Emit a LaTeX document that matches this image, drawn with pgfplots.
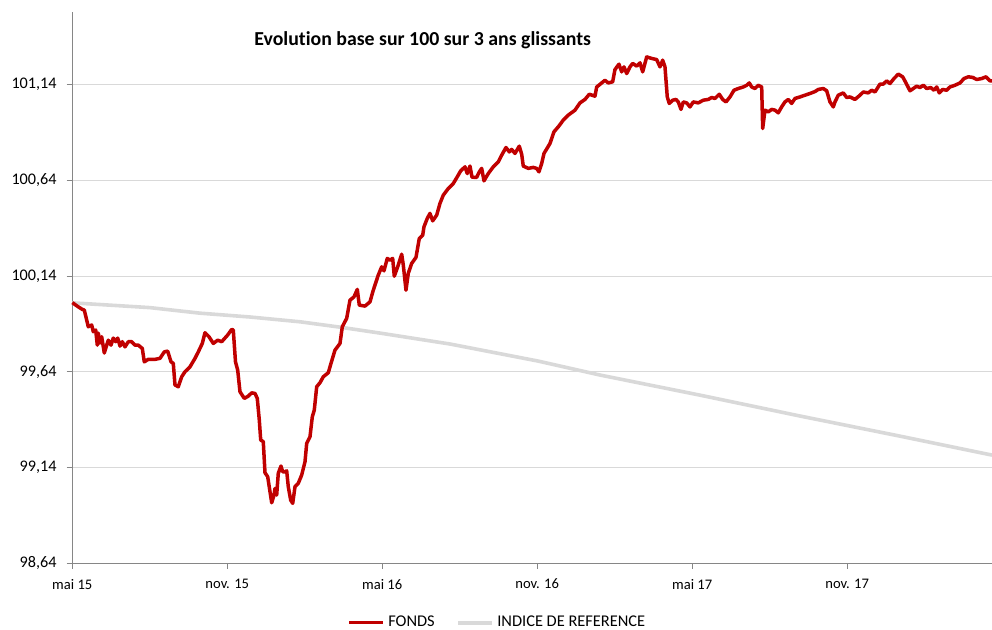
\documentclass[border=0pt]{standalone}
\usepackage{fontspec}
\setmainfont{Carlito}[Ligatures=NoCommon]
\usepackage{pgfplots}
\usepackage{pgfplotstable}
\pgfplotsset{compat=1.18}
\definecolor{fondsred}{HTML}{C00000}
\definecolor{indexgray}{HTML}{D9D9D9}
\definecolor{gridgray}{HTML}{D9D9D9}
\definecolor{axisgray}{HTML}{868686}

\pgfplotstableread{
x y
0.000 100.001
0.232 99.979
0.387 99.966
0.465 99.962
0.619 99.875
0.751 99.884
0.813 99.849
0.906 99.858
0.968 99.779
1.007 99.842
1.072 99.790
1.138 99.823
1.239 99.738
1.332 99.779
1.394 99.805
1.498 99.779
1.587 99.816
1.680 99.797
1.758 99.816
1.847 99.774
1.936 99.797
2.040 99.770
2.168 99.797
2.300 99.797
2.427 99.779
2.555 99.779
2.710 99.762
2.787 99.692
2.942 99.705
3.202 99.705
3.395 99.710
3.562 99.744
3.693 99.748
3.821 99.692
3.910 99.684
3.976 99.571
4.104 99.562
4.235 99.614
4.363 99.640
4.557 99.666
4.750 99.710
4.878 99.744
5.033 99.788
5.137 99.844
5.292 99.823
5.459 99.788
5.629 99.805
5.784 99.797
6.016 99.832
6.171 99.861
6.233 99.858
6.318 99.692
6.403 99.649
6.492 99.536
6.659 99.501
6.814 99.513
6.945 99.530
7.073 99.527
7.162 99.501
7.240 99.388
7.294 99.284
7.394 99.275
7.460 99.113
7.565 99.092
7.654 99.014
7.720 98.956
7.809 98.996
7.848 99.031
7.913 98.996
7.975 99.110
8.080 99.148
8.146 99.118
8.235 99.118
8.300 99.123
8.362 99.040
8.455 98.970
8.533 98.953
8.622 99.040
8.750 99.058
8.881 99.101
9.009 99.170
9.075 99.266
9.203 99.301
9.292 99.405
9.369 99.440
9.462 99.562
9.590 99.583
9.718 99.614
9.911 99.635
10.016 99.684
10.170 99.753
10.364 99.788
10.453 99.875
10.623 99.919
10.751 100.014
10.906 100.031
11.034 100.070
11.111 99.988
11.332 99.983
11.525 100.005
11.653 100.066
11.847 100.145
11.978 100.188
12.067 100.167
12.195 100.232
12.300 100.223
12.404 100.232
12.466 100.139
12.598 100.188
12.753 100.254
12.815 100.197
12.919 100.066
13.008 100.154
13.140 100.206
13.306 100.237
13.434 100.336
13.566 100.353
13.616 100.397
13.744 100.441
13.848 100.467
13.953 100.428
14.108 100.458
14.235 100.519
14.363 100.562
14.557 100.597
14.750 100.623
14.944 100.667
15.037 100.689
15.203 100.710
15.292 100.675
15.397 100.714
15.475 100.656
15.656 100.655
15.757 100.684
15.850 100.702
15.939 100.637
16.105 100.675
16.299 100.710
16.493 100.736
16.624 100.771
16.791 100.811
16.919 100.788
17.011 100.801
17.139 100.780
17.305 100.818
17.398 100.776
17.460 100.714
17.654 100.702
17.847 100.707
17.979 100.702
18.068 100.684
18.173 100.728
18.262 100.780
18.494 100.832
18.649 100.893
18.815 100.919
19.009 100.954
19.203 100.980
19.462 101.006
19.656 101.044
19.849 101.062
20.015 101.089
20.236 101.079
20.302 101.127
20.495 101.148
20.623 101.162
20.751 101.148
20.921 101.154
21.010 101.218
21.165 101.246
21.270 101.206
21.359 101.232
21.463 101.197
21.591 101.232
21.696 101.250
21.851 101.236
21.979 101.253
22.083 101.206
22.238 101.284
22.431 101.276
22.625 101.270
22.753 101.232
22.857 101.267
22.946 101.232
23.035 101.075
23.113 101.041
23.244 101.058
23.372 101.062
23.461 101.049
23.566 101.010
23.655 101.049
23.786 101.044
23.914 101.023
24.042 101.049
24.236 101.044
24.429 101.058
24.623 101.062
24.755 101.072
24.882 101.067
25.049 101.089
25.180 101.062
25.308 101.049
25.463 101.075
25.618 101.110
25.784 101.119
25.978 101.127
26.110 101.136
26.210 101.148
26.303 101.127
26.431 101.119
26.559 101.136
26.690 101.127
26.729 100.910
26.818 101.006
26.946 100.997
27.077 101.010
27.205 101.006
27.333 100.992
27.464 101.023
27.592 101.049
27.720 101.062
27.851 101.041
27.979 101.067
28.173 101.075
28.366 101.084
28.560 101.093
28.753 101.103
28.881 101.114
29.075 101.119
29.207 101.107
29.334 101.049
29.462 101.023
29.528 101.049
29.656 101.084
29.849 101.096
29.981 101.072
30.109 101.075
30.302 101.062
30.496 101.084
30.624 101.101
30.817 101.096
30.949 101.110
31.077 101.101
31.270 101.142
31.398 101.142
31.530 101.159
31.657 101.145
31.812 101.171
31.979 101.194
32.149 101.180
32.277 101.148
32.432 101.107
32.560 101.119
32.691 101.131
32.819 101.124
32.947 101.136
33.079 101.119
33.234 101.124
33.362 101.110
33.466 101.127
33.567 101.096
33.699 101.114
33.853 101.110
33.981 101.127
34.174 101.136
34.368 101.148
34.523 101.171
34.689 101.180
34.860 101.177
35.014 101.166
35.208 101.171
35.374 101.180
35.529 101.159
35.607 101.159
}\fonds

\pgfplotstableread{
x y
0.000 100.000
3.008 99.975
4.944 99.946
6.880 99.926
8.815 99.901
10.364 99.873
11.913 99.842
14.623 99.785
18.030 99.696
20.430 99.623
24.302 99.518
28.173 99.409
32.044 99.304
35.607 99.205
}\indice

\begin{document}
\begin{tikzpicture}
\begin{axis}[
  scale only axis,
  width=459.85pt, height=275.8pt,
  xmin=0, xmax=35.607,
  ymin=98.64, ymax=101.52,
  axis x line*=bottom, axis y line*=left,
  axis line style={axisgray, line width=0.5pt, -},
  xtick={0,6,12,18,24,30},
  xticklabels={mai 15, nov. 15, mai 16, nov. 16, mai 17, nov. 17},
  ytick={98.64,99.14,99.64,100.14,100.64,101.14},
  yticklabels={{98,64},{99,14},{99,64},{100,14},{100,64},{101,14}},
  tick style={axisgray, line width=0.5pt},
  tick align=outside,
  major tick length=2.8pt,
  ymajorgrids,
  grid style={gridgray, line width=0.5pt},
  xticklabel style={font=\fontsize{7.3}{8.5}\selectfont, text=black, yshift=-1.5pt},
  yticklabel style={font=\fontsize{8.1}{9.5}\selectfont, text=black, xshift=-1.5pt},
  legend columns=2,
  reverse legend,
  legend style={draw=none, fill=none, at={(axis description cs:0.4632,-0.1077)}, anchor=center,
    font=\fontsize{8.2}{9.5}\selectfont, inner sep=0pt,
    /tikz/every even column/.append style={column sep=8.8pt}},
  legend image code/.code={\draw[#1] (0pt,0pt) -- (16.7pt,0pt);},
  clip=false,
]
\addplot[indexgray, line width=1.8pt, line join=round] table[x=x,y=y] {\indice};
\addlegendentry{INDICE DE REFERENCE}
\addplot[fondsred, line width=1.75pt, line join=round] table[x=x,y=y] {\fonds};
\addlegendentry{FONDS}
\node[font=\bfseries\fontsize{9.9}{11.5}\selectfont, anchor=center] at (rel axis cs:0.381,0.949) {Evolution base sur 100 sur 3 ans glissants};
\end{axis}
\pgfresetboundingbox
\path (-36.15pt,-32.85pt) rectangle (459.85pt,281.65pt);
\end{tikzpicture}
\end{document}
